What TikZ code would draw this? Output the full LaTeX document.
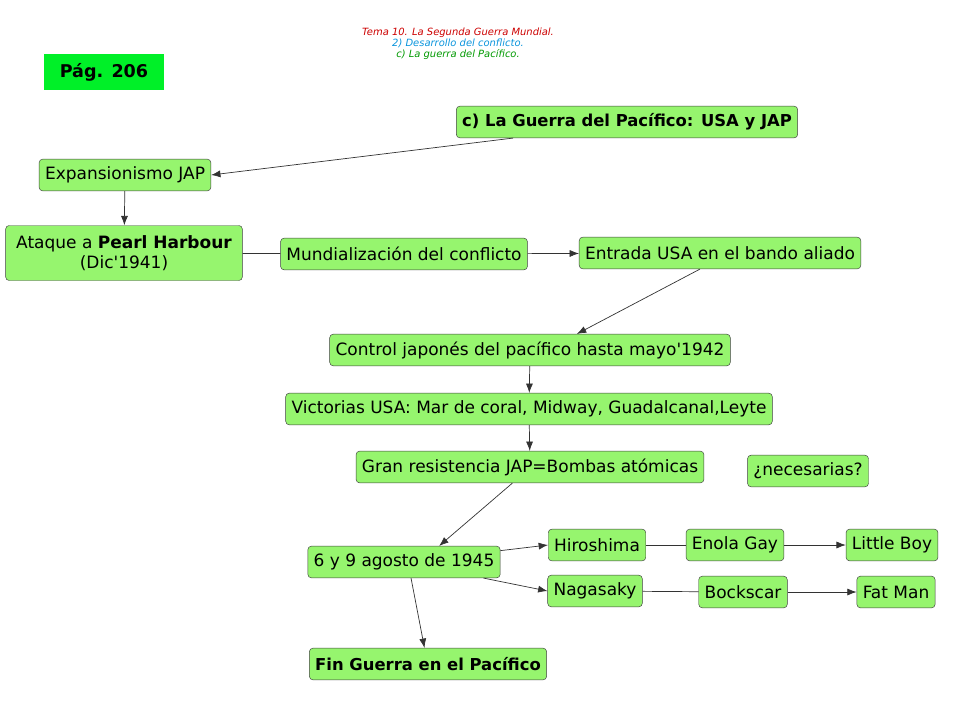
\documentclass[tikz,border=0pt]{standalone}
\usepackage{fontspec}
\setmainfont{DejaVu Sans}
\usepackage{textcomp}
\usetikzlibrary{arrows.meta}
\definecolor{boxgreen}{RGB}{150,245,110}
\definecolor{pagegreen}{RGB}{0,240,40}
\begin{document}
\begin{tikzpicture}[x=0.03cm,y=-0.03cm,
    box/.style={draw=black!75,fill=boxgreen,rounded corners=3pt,inner xsep=5pt,inner ysep=3pt,
      minimum height=0.95cm,font=\fontsize{14.5}{17}\selectfont},
    arr/.style={-{Latex[length=8pt,width=6pt]},black!80,semithick},
    lin/.style={black!80,semithick}]
  \useasboundingbox (0,0) rectangle (960,720);

  % Kopfzeile
  \node[font=\itshape\fontsize{8.5}{9.5}\selectfont,align=center] (head) at (458,44)
    {\textcolor{red!80!black}{Tema 10. La Segunda Guerra Mundial.}\\
     \textcolor{cyan!80!blue}{2) Desarrollo del conflicto.}\\
     \textcolor{green!60!black}{c) La guerra del Pacífico.}};
  \node[fill=pagegreen,minimum width=3.57cm,minimum height=1.1cm,
    font=\bfseries\fontsize{15}{18}\selectfont] (pag) at (104,72) {Pág. 206};

  % Knoten
  \node[box,font=\bfseries\fontsize{14}{16}\selectfont] (title) at (627,122) {c) La Guerra del Pacífico: USA y JAP};
  \node[box] (exp) at (125,175) {Expansionismo JAP};
  \node[box,align=center,minimum width=7.1cm,minimum height=1.65cm] (pearl) at (124,253) {Ataque a \textbf{Pearl Harbour}\\(Dic\textquotesingle 1941)};
  \node[box] (mund) at (404,254) {Mundialización del conflicto};
  \node[box] (entrada) at (720,253) {Entrada USA en el bando aliado};
  \node[box] (control) at (530,350) {Control japonés del pacífico hasta mayo\textquotesingle 1942};
  \node[box] (vict) at (529,409) {Victorias USA: Mar de coral, Midway, Guadalcanal,Leyte};
  \node[box] (gran) at (530,467) {Gran resistencia JAP=Bombas atómicas};
  \node[box] (nec) at (808,471) {¿necesarias?};
  \node[box] (ago) at (404,562) {6 y 9 agosto de 1945};
  \node[box] (hiro) at (597,545) {Hiroshima};
  \node[box] (enola) at (735,545) {Enola Gay};
  \node[box] (little) at (892,545) {Little Boy};
  \node[box] (naga) at (595,591) {Nagasaky};
  \node[box] (bock) at (743,592) {Bockscar};
  \node[box] (fat) at (896,592) {Fat Man};
  \node[box,font=\bfseries\fontsize{14}{16}\selectfont] (fin) at (428,664) {Fin Guerra en el Pacífico};

  % Verbindungen
  \draw[arr] (title.south west) ++(57,0) -- (exp.east);
  \draw[arr] (exp) -- (pearl);
  \draw[lin] (pearl) -- (mund);
  \draw[arr] (mund) -- (entrada);
  \draw[arr] (entrada.south) ++(-20,0) -- ([xshift=40]control.north);
  \draw[arr] (control) -- (vict);
  \draw[arr] (vict) -- (gran);
  \draw[arr] ([xshift=-15]gran.south) -- ([xshift=30]ago.north);
  \draw[arr] (ago) -- (hiro.west);
  \draw[arr] (ago) -- (naga.west);
  \draw[lin] (hiro) -- (enola);
  \draw[arr] (enola) -- (little);
  \draw[lin] (naga) -- (bock);
  \draw[arr] (bock) -- (fat);
  \draw[arr] ([xshift=6]ago.south) -- ([xshift=-3]fin.north);
\end{tikzpicture}
\end{document}
